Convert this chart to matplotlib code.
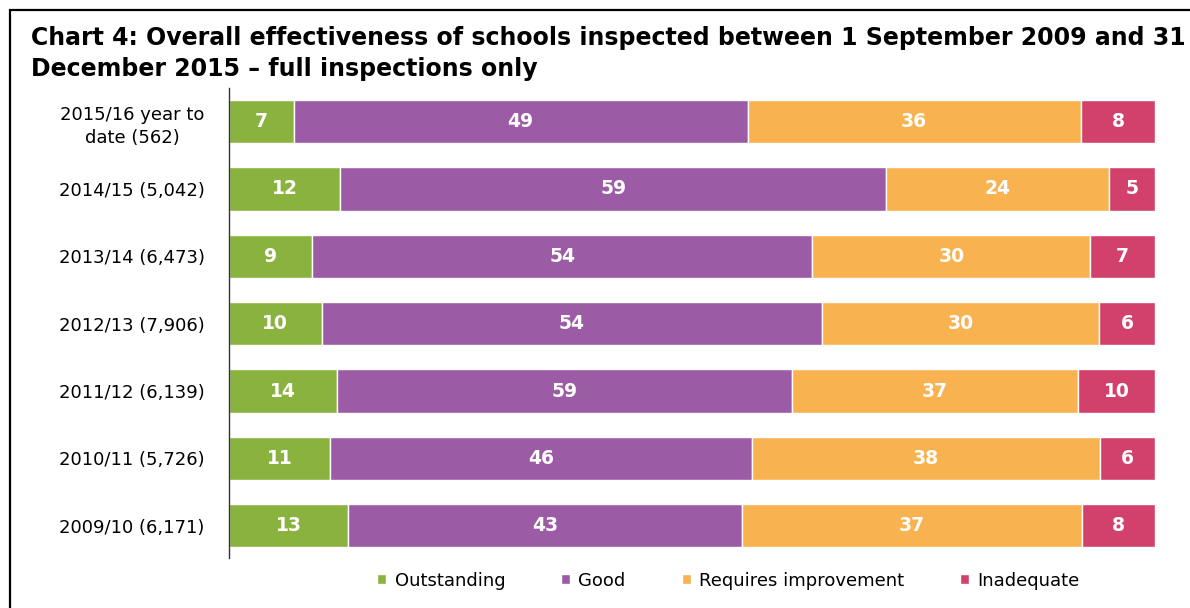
import numpy as np
import matplotlib.pyplot as plt
from matplotlib.patches import Rectangle

plt.rcParams["font.family"] = "DejaVu Sans"

years = ["2009/10 (6,171)", "2010/11 (5,726)", "2011/12 (6,139)", "2012/13 (7,906)",
         "2013/14 (6,473)", "2014/15 (5,042)", "2015/16 year to\ndate (562)"]
outstanding = [13, 11, 14, 10, 9, 12, 7]
good = [43, 46, 59, 54, 54, 59, 49]
requires_imp = [37, 38, 37, 30, 30, 24, 36]
inadequate = [8, 6, 10, 6, 7, 5, 8]

series = [("Outstanding", outstanding, "#8AB23F"),
          ("Good", good, "#9B5BA5"),
          ("Requires improvement", requires_imp, "#F8B24F"),
          ("Inadequate", inadequate, "#D1416C")]

vals = np.array([s[1] for s in series], dtype=float)
totals = vals.sum(axis=0)
shares = vals / totals * 100  # 100% stacked

fig = plt.figure(figsize=(11.9, 6.08), dpi=100)
ax = fig.add_axes([0.1924, 0.0822, 0.7782, 0.7731])

y = np.arange(len(years))
left = np.zeros(len(years))
for (name, raw, col), w in zip(series, shares):
    ax.barh(y, w, left=left, height=0.64, color=col, edgecolor="white",
            linewidth=1, label=name)
    for yi, li, wi, v in zip(y, left, w, raw):
        ax.text(li + wi / 2, yi, str(v), ha="center", va="center",
                color="white", fontsize=13.5, fontweight="bold")
    left += w

ax.set_xlim(0, 100)
ax.set_ylim(-0.48, 6.5)
ax.set_yticks(y)
ax.set_yticklabels(years, fontsize=13, linespacing=1.35)
ax.tick_params(axis="y", length=0)
ax.set_xticks([])
for side in ["top", "right", "bottom"]:
    ax.spines[side].set_visible(False)
ax.spines["left"].set_linewidth(1)
ax.spines["left"].set_color("#333333")
for lbl in ax.get_yticklabels():
    lbl.set_horizontalalignment("center")
    lbl.set_x(-0.0994)

fig.text(0.026, 0.957, "Chart 4: Overall effectiveness of schools inspected between 1 September 2009 and 31\n"
         "December 2015 \u2013 full inspections only", fontsize=17, fontweight="bold",
         va="top", ha="left", linespacing=1.36)

leg = fig.legend(loc="center", bbox_to_anchor=(0.612, 0.045), ncol=4, frameon=False,
                 fontsize=13, handlelength=0.5, handleheight=0.5, handletextpad=0.45,
                 columnspacing=3.1)

# outer frame (only top and left edges fall inside the image)
fig.patches.append(Rectangle((0.0085, -0.1), 1.2, 1.0835, transform=fig.transFigure,
                             fill=False, edgecolor="black", linewidth=1.6))

fig.savefig("out.png", dpi=100)
